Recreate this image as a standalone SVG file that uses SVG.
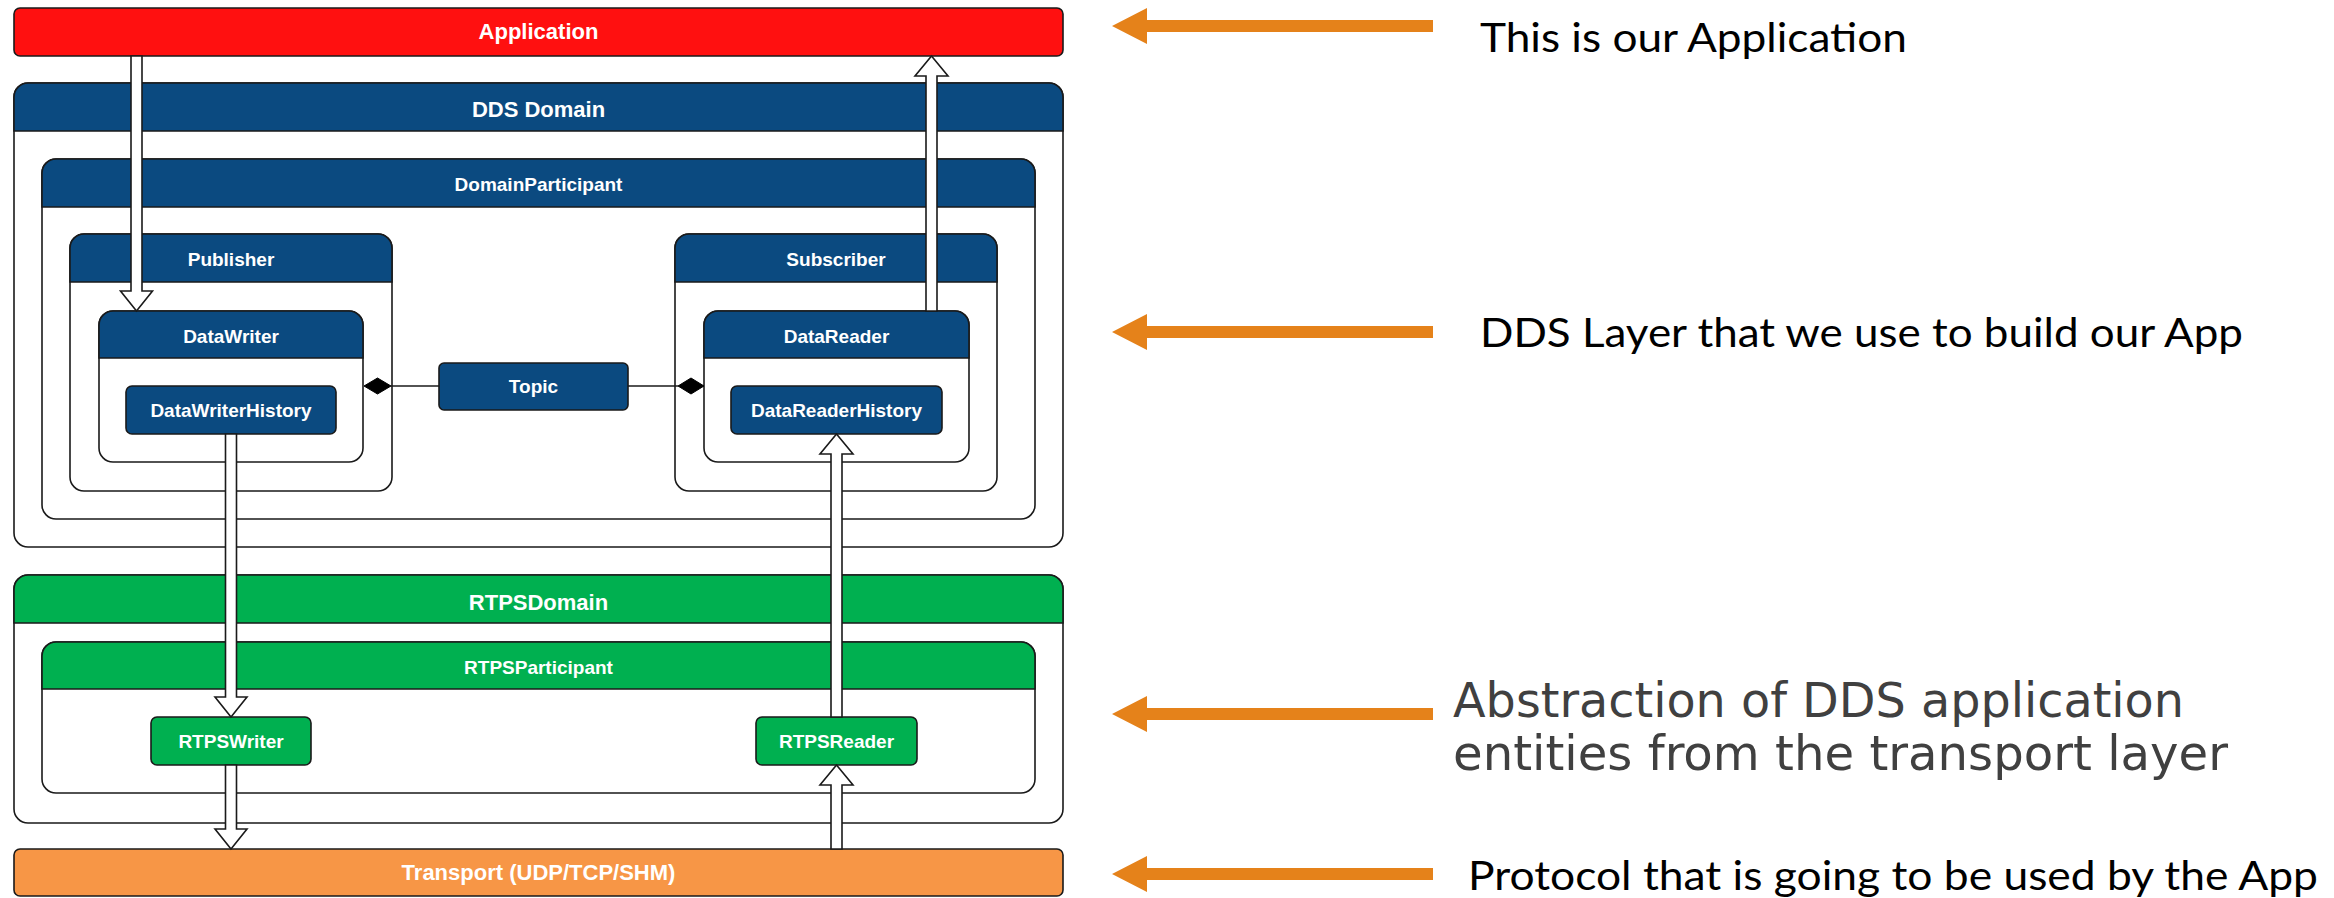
<svg xmlns="http://www.w3.org/2000/svg" width="2334" height="898" viewBox="0 0 2334 898">
  <style>
    .frame { fill: #ffffff; stroke: #1a1a1a; stroke-width: 1.6; }
    .hdr-blue { fill: #0b4a80; stroke: #1a1a1a; stroke-width: 1.6; }
    .hdr-green { fill: #00b050; stroke: #1a1a1a; stroke-width: 1.6; }
    .box-blue { fill: #0b4a80; stroke: #1a1a1a; stroke-width: 1.6; }
    .box-green { fill: #00b050; stroke: #1a1a1a; stroke-width: 1.6; }
    .box-red { fill: #ff1010; stroke: #1a1a1a; stroke-width: 1.6; }
    .box-orange { fill: #f79646; stroke: #1a1a1a; stroke-width: 1.6; }
    .lbl { font-family: "Liberation Sans", Arial, sans-serif; font-weight: bold; fill: #ffffff; text-anchor: middle; }
    .big { font-size: 22px; }
    .small { font-size: 19px; }
    .flow { fill: #ffffff; stroke: #1a1a1a; stroke-width: 1.6; stroke-linejoin: miter; }
    .link { fill: none; stroke: #1a1a1a; stroke-width: 1.6; }
    .diamond { fill: #000000; stroke: #000000; stroke-width: 1; }
    .pointer { fill: #e5821a; }
    .note { font-family: Lato, "Open Sans", sans-serif; font-size: 40px; fill: #000000; }
    .note-grey { font-family: "DejaVu Sans", Verdana, sans-serif; font-size: 48px; fill: #404040; }
  </style>

  <!-- Application layer -->
  <g id="application">
    <rect class="box-red" x="14" y="8" width="1049" height="48" rx="6"/>
    <text class="lbl big" x="538.5" y="39">Application</text>
  </g>

  <!-- DDS Domain container -->
  <g id="dds-domain">
    <rect class="frame" x="14" y="83" width="1049" height="464" rx="14"/>
    <path class="hdr-blue" d="M14,131 V97 A14,14 0 0 1 28,83 H1049 A14,14 0 0 1 1063,97 V131 Z"/>
    <text class="lbl big" x="538.5" y="117">DDS Domain</text>
  </g>

  <g id="domain-participant">
    <rect class="frame" x="42" y="159" width="993" height="360" rx="14"/>
    <path class="hdr-blue" d="M42,207 V173 A14,14 0 0 1 56,159 H1021 A14,14 0 0 1 1035,173 V207 Z"/>
    <text class="lbl small" x="538.5" y="191">DomainParticipant</text>
  </g>

  <g id="publisher">
    <rect class="frame" x="70" y="234" width="322" height="257" rx="14"/>
    <path class="hdr-blue" d="M70,282 V248 A14,14 0 0 1 84,234 H378 A14,14 0 0 1 392,248 V282 Z"/>
    <text class="lbl small" x="231" y="266">Publisher</text>
  </g>

  <g id="data-writer">
    <rect class="frame" x="99" y="311" width="264" height="151" rx="14"/>
    <path class="hdr-blue" d="M99,358 V325 A14,14 0 0 1 113,311 H349 A14,14 0 0 1 363,325 V358 Z"/>
    <text class="lbl small" x="231" y="343">DataWriter</text>
  </g>

  <g id="data-writer-history">
    <rect class="box-blue" x="126" y="386" width="210" height="48" rx="6"/>
    <text class="lbl small" x="231" y="417">DataWriterHistory</text>
  </g>

  <g id="topic">
    <rect class="box-blue" x="439" y="363" width="189" height="47" rx="5"/>
    <text class="lbl small" x="533.5" y="393">Topic</text>
  </g>

  <g id="subscriber">
    <rect class="frame" x="675" y="234" width="322" height="257" rx="14"/>
    <path class="hdr-blue" d="M675,282 V248 A14,14 0 0 1 689,234 H983 A14,14 0 0 1 997,248 V282 Z"/>
    <text class="lbl small" x="836" y="266">Subscriber</text>
  </g>

  <g id="data-reader">
    <rect class="frame" x="704" y="311" width="265" height="151" rx="14"/>
    <path class="hdr-blue" d="M704,358 V325 A14,14 0 0 1 718,311 H955 A14,14 0 0 1 969,325 V358 Z"/>
    <text class="lbl small" x="836.5" y="343">DataReader</text>
  </g>

  <g id="data-reader-history">
    <rect class="box-blue" x="731" y="386" width="211" height="48" rx="6"/>
    <text class="lbl small" x="836.5" y="417">DataReaderHistory</text>
  </g>

  <!-- RTPS layer -->
  <g id="rtps-domain">
    <rect class="frame" x="14" y="575" width="1049" height="248" rx="14"/>
    <path class="hdr-green" d="M14,623 V589 A14,14 0 0 1 28,575 H1049 A14,14 0 0 1 1063,589 V623 Z"/>
    <text class="lbl big" x="538.5" y="610">RTPSDomain</text>
  </g>

  <g id="rtps-participant">
    <rect class="frame" x="42" y="642" width="993" height="151" rx="14"/>
    <path class="hdr-green" d="M42,689 V656 A14,14 0 0 1 56,642 H1021 A14,14 0 0 1 1035,656 V689 Z"/>
    <text class="lbl small" x="538.5" y="674">RTPSParticipant</text>
  </g>

  <g id="rtps-writer">
    <rect class="box-green" x="151" y="717" width="160" height="48" rx="6"/>
    <text class="lbl small" x="231" y="748">RTPSWriter</text>
  </g>

  <g id="rtps-reader">
    <rect class="box-green" x="756" y="717" width="161" height="48" rx="6"/>
    <text class="lbl small" x="836.5" y="748">RTPSReader</text>
  </g>

  <g id="transport">
    <rect class="box-orange" x="14" y="849" width="1049" height="47" rx="6"/>
    <text class="lbl big" x="538.5" y="880">Transport (UDP/TCP/SHM)</text>
  </g>

  <!-- Connectors: data flow block arrows and topic associations -->
  <g id="connectors">
    <!-- Application -> DataWriter -->
    <polygon class="flow" points="131,56 142,56 142,291 152.5,291 136.5,311 120.5,291 131,291"/>
    <!-- DataReader -> Application -->
    <polygon class="flow" points="926,311 937,311 937,76 948,76 931.5,56 915,76 926,76"/>
    <!-- DataWriterHistory -> RTPSWriter -->
    <polygon class="flow" points="225.5,434 236.5,434 236.5,697 247,697 231,717 215,697 225.5,697"/>
    <!-- RTPSWriter -> Transport -->
    <polygon class="flow" points="225.5,765 236.5,765 236.5,829 247,829 231,849 215,829 225.5,829"/>
    <!-- Transport -> RTPSReader -->
    <polygon class="flow" points="831,849 842,849 842,785 853,785 836.5,765 820,785 831,785"/>
    <!-- RTPSReader -> DataReaderHistory -->
    <polygon class="flow" points="831,717 842,717 842,454 853,454 836.5,434 820,454 831,454"/>

    <!-- DataWriter <>— Topic -->
    <line class="link" x1="391" y1="386" x2="439" y2="386"/>
    <polygon class="diamond" points="364,386 377.5,378 391,386 377.5,394"/>
    <!-- Topic —<> DataReader -->
    <line class="link" x1="628" y1="386" x2="678" y2="386"/>
    <polygon class="diamond" points="678,386 691,378 704,386 691,394"/>
  </g>

  <!-- Side notes with orange pointers -->
  <g id="note-application">
    <polygon class="pointer" points="1112,26 1147,8 1147,20 1433,20 1433,32 1147,32 1147,44"/>
    <text class="note" x="1480" y="52" textLength="427" lengthAdjust="spacingAndGlyphs">This is our Application</text>
  </g>

  <g id="note-dds">
    <polygon class="pointer" points="1112,332 1147,314 1147,326 1433,326 1433,338 1147,338 1147,350"/>
    <text class="note" x="1480" y="347" textLength="763" lengthAdjust="spacingAndGlyphs">DDS Layer that we use to build our App</text>
  </g>

  <g id="note-rtps">
    <polygon class="pointer" points="1112,714 1147,696 1147,708 1433,708 1433,720 1147,720 1147,732"/>
    <text class="note-grey" x="1453" y="717" textLength="731" lengthAdjust="spacingAndGlyphs">Abstraction of DDS application</text>
    <text class="note-grey" x="1453" y="770" textLength="775" lengthAdjust="spacingAndGlyphs">entities from the transport layer</text>
  </g>

  <g id="note-transport">
    <polygon class="pointer" points="1112,874 1147,856 1147,868 1433,868 1433,880 1147,880 1147,892"/>
    <text class="note" x="1468" y="890" textLength="850" lengthAdjust="spacingAndGlyphs">Protocol that is going to be used by the App</text>
  </g>
</svg>
